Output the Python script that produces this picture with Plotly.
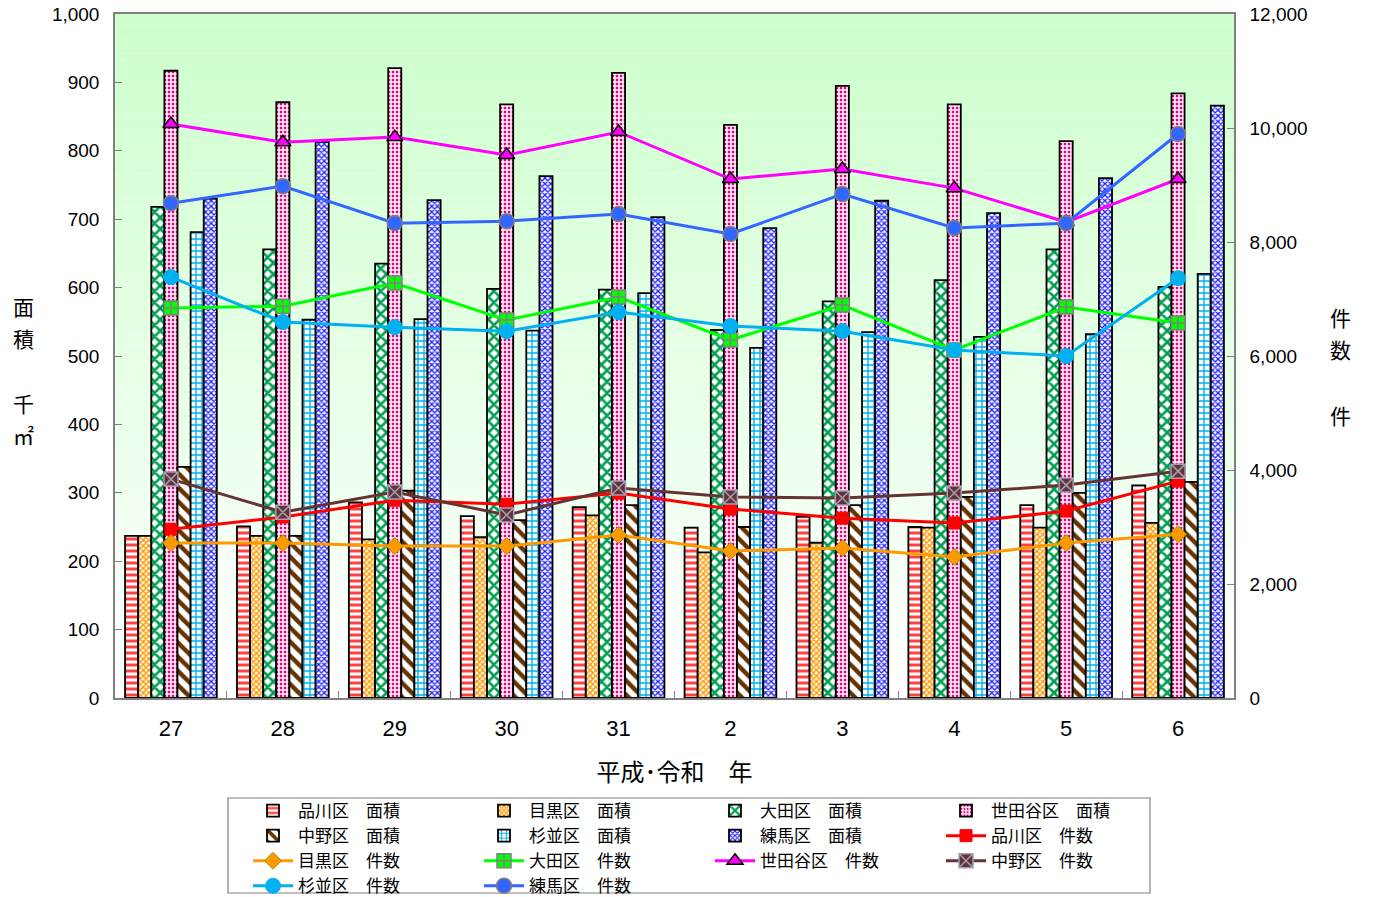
import plotly.graph_objects as go

years = ["27", "28", "29", "30", "31", "2", "3", "4", "5", "6"]

# 面積 (千㎡) — left axis
area_shinagawa = [237, 251, 286, 266, 279, 249, 265, 250, 282, 311]
area_meguro     = [237, 237, 232, 235, 267, 213, 227, 249, 249, 256]
area_ota        = [718, 656, 635, 598, 597, 538, 580, 611, 656, 601]
area_setagaya   = [917, 871, 921, 868, 914, 838, 895, 868, 814, 884]
area_nakano     = [338, 237, 303, 260, 282, 250, 282, 294, 300, 316]
area_suginami   = [681, 553, 554, 537, 592, 512, 535, 528, 532, 620]
area_nerima     = [730, 813, 728, 763, 703, 687, 727, 709, 760, 866]

# 件数 — right axis
cnt_shinagawa = [2960, 3175, 3470, 3400, 3595, 3315, 3155, 3070, 3280, 3805]
cnt_meguro    = [2720, 2720, 2665, 2665, 2860, 2580, 2630, 2475, 2720, 2875]
cnt_ota       = [6840, 6875, 7280, 6630, 7035, 6280, 6895, 6105, 6860, 6580]
cnt_setagaya  = [10070, 9750, 9840, 9525, 9930, 9105, 9280, 8945, 8350, 9105]
cnt_nakano    = [3840, 3260, 3615, 3210, 3685, 3525, 3510, 3595, 3735, 3980]
cnt_suginami  = [7385, 6595, 6505, 6435, 6770, 6525, 6435, 6105, 6000, 7365]
cnt_nerima    = [8680, 8980, 8330, 8365, 8490, 8140, 8840, 8245, 8330, 9895]

left_ticks = list(range(0, 1001, 100))
right_ticks = list(range(0, 12001, 2000))

JP = "Noto Sans CJK JP"
NUM = "Liberation Sans"

fig = go.Figure()

bar_specs = [
    ("品川区　面積", area_shinagawa, dict(shape="-", fgcolor="#ff4040", bgcolor="white", size=6, solidity=0.5, fgopacity=1)),
    ("目黒区　面積", area_meguro, dict(shape="x", fgcolor="#ff9900", bgcolor="white", size=4, solidity=0.6, fgopacity=1)),
    ("大田区　面積", area_ota, dict(shape="x", fgcolor="#00a050", bgcolor="white", size=8, solidity=0.55, fgopacity=1)),
    ("世田谷区　面積", area_setagaya, dict(shape=".", fgcolor="#e4007f", bgcolor="#ffe6f2", size=4, solidity=0.35, fgopacity=1)),
    ("中野区　面積", area_nakano, dict(shape="\\", fgcolor="#663300", bgcolor="white", size=10, solidity=0.45, fgopacity=1)),
    ("杉並区　面積", area_suginami, dict(shape="+", fgcolor="#00b0f0", bgcolor="white", size=6, solidity=0.4, fgopacity=1)),
    ("練馬区　面積", area_nerima, dict(shape="x", fgcolor="#2020ff", bgcolor="white", size=4, solidity=0.55, fgopacity=1)),
]
for name, vals, pat in bar_specs:
    fig.add_trace(go.Bar(
        x=years, y=vals, name=name,
        marker=dict(color="white", pattern=pat, line=dict(color="black", width=1.8)),
        yaxis="y",
    ))

line_specs = [
    ("品川区　件数", cnt_shinagawa, "#ff0000", dict(symbol="square", color="#ff0000", size=12, line=dict(color="#ff0000", width=1))),
    ("目黒区　件数", cnt_meguro, "#ff9900", dict(symbol="diamond", color="#ff9900", size=13, line=dict(color="#a09000", width=1))),
    ("大田区　件数", cnt_ota, "#00ff00", dict(symbol="square-cross", color="#00ff00", size=14, line=dict(color="#808080", width=1.5))),
    ("世田谷区　件数", cnt_setagaya, "#ff00ff", dict(symbol="triangle-up", color="#ff00ff", size=14, line=dict(color="black", width=1.5))),
    ("中野区　件数", cnt_nakano, "#663333", dict(symbol="square-x", color="#663333", size=14, line=dict(color="#a0a0b8", width=1.5))),
    ("杉並区　件数", cnt_suginami, "#00b0f0", dict(symbol="circle", color="#00b0f0", size=15, line=dict(color="#00b0f0", width=1))),
    ("練馬区　件数", cnt_nerima, "#3366ff", dict(symbol="circle", color="#3366ff", size=15, line=dict(color="#808080", width=1.5))),
]
for name, vals, col, mk in line_specs:
    fig.add_trace(go.Scatter(
        x=years, y=vals, name=name, mode="lines+markers",
        line=dict(color=col, width=3), marker=mk, yaxis="y2",
    ))

# gradient background in plot area
shapes = []
n = 60
for i in range(n):
    t = i / (n - 1)  # 0 bottom -> 1 top
    r = int(round(255 - (255 - 204) * t))
    b = int(round(255 - (255 - 204) * t))
    shapes.append(dict(type="rect", xref="paper", yref="paper",
                       x0=0, x1=1, y0=i / n, y1=(i + 1) / n,
                       fillcolor=f"rgb({r},255,{b})", line=dict(width=0), layer="below"))

# pixel -> paper helpers (plot area: x 115..1234, y 14..698 in page pixels)
PW, PH, PL, PB = 1119, 684, 115, 698
def px_x(p): return (p - PL) / PW
def px_y(p): return (PB - p) / PH

# legend frame
shapes.append(dict(type="rect", xref="paper", yref="paper",
                   x0=px_x(228), x1=px_x(1150), y0=px_y(893), y1=px_y(798),
                   line=dict(color="#808080", width=1.2), fillcolor="rgba(0,0,0,0)", layer="above"))

title_font = dict(family=JP, size=21, color="black")
annotations = []
for ch, py in [("面", 306), ("積", 338), ("千", 403), ("㎡", 435)]:
    annotations.append(dict(text=ch, xref="paper", yref="paper", x=px_x(23), y=px_y(py),
                            xanchor="center", yanchor="middle", showarrow=False, font=title_font))
for ch, py in [("件", 317), ("数", 349), ("件", 415)]:
    annotations.append(dict(text=ch, xref="paper", yref="paper", x=px_x(1340), y=px_y(py),
                            xanchor="center", yanchor="middle", showarrow=False, font=title_font))

fig.update_layout(
    width=1373, height=897,
    margin=dict(l=115, r=139, t=14, b=199, autoexpand=False),
    paper_bgcolor="white", plot_bgcolor="white",
    barmode="group", bargap=0.18, bargroupgap=0,
    shapes=shapes,
    annotations=annotations,
    showlegend=True,
    legend=dict(
        orientation="h", x=px_x(248), xanchor="left", y=px_y(793), yanchor="top",
        entrywidth=176, entrywidthmode="pixels", itemwidth=40,
        font=dict(family=JP, size=17, color="black"),
        borderwidth=0, bgcolor="rgba(255,255,255,0)",
        traceorder="normal", tracegroupgap=0,
    ),
    xaxis=dict(
        type="category", range=[-0.5, 9.5],
        tickfont=dict(family=NUM, size=22, color="black"),
        showline=True, linecolor="#808080", linewidth=1.5, mirror=True,
        ticks="inside", tickson="boundaries", ticklen=7, tickcolor="#808080",
        ticklabelstandoff=10,
        showgrid=False, automargin=False,
        title=dict(text="平成･令和　年", font=dict(family=JP, size=24, color="black"), standoff=24),
    ),
    yaxis=dict(
        range=[0, 1000], tickvals=left_ticks, tickformat=",",
        tickfont=dict(family=NUM, size=19, color="black"),
        showline=True, linecolor="#808080", linewidth=1.5, automargin=False,
        ticks="inside", ticklen=7, tickcolor="#808080", ticklabelstandoff=10,
        ticklabeloverflow="allow",
        showgrid=False, zeroline=False,
    ),
    yaxis2=dict(
        range=[0, 12000], tickvals=right_ticks, tickformat=",",
        tickfont=dict(family=NUM, size=19, color="black"),
        overlaying="y", side="right", automargin=False,
        showline=True, linecolor="#808080", linewidth=1.5,
        ticks="inside", ticklen=7, tickcolor="#808080", ticklabelstandoff=10,
        ticklabeloverflow="allow",
        showgrid=False, zeroline=False,
    ),
)

fig.write_html(
    "out.html",
    config={"displayModeBar": False},
    post_script="document.body.style.margin='0';document.body.style.overflow='hidden';",
)
